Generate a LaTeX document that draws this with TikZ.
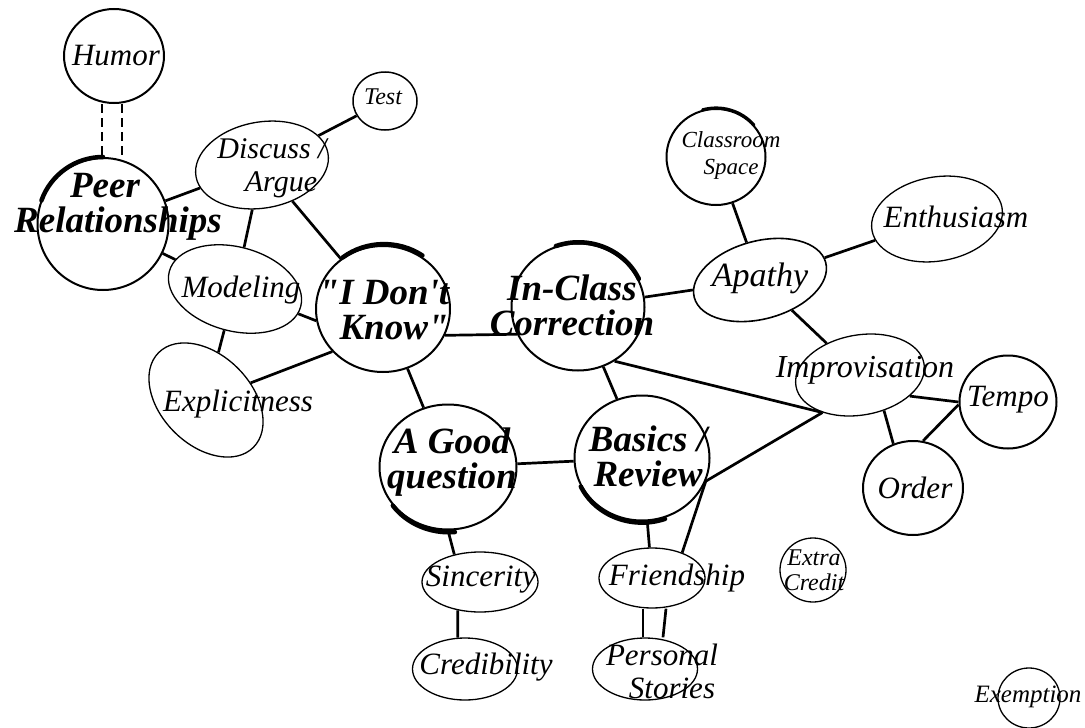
\documentclass[tikz,border=0pt]{standalone}
\usepackage{fontspec}
\setmainfont{Liberation Serif}
\usetikzlibrary{shapes.geometric}

\tikzset{
  bub/.style={draw, ellipse, line width=2pt, inner sep=0pt},
  thinbub/.style={bub, line width=1.3pt},
  lab/.style={align=center, inner sep=0pt, font=\fontsize{31pt}{33pt}\selectfont\itshape},
  smalllab/.style={lab, font=\fontsize{24pt}{25pt}\selectfont\itshape},
  boldlab/.style={lab, font=\fontsize{37pt}{35pt}\selectfont\bfseries\itshape},
  link/.style={line width=2.7pt},
  brush/.style={line width=4.5pt, line cap=round},
}

\begin{document}
\begin{tikzpicture}[x=1pt, y=-1pt]
\useasboundingbox (0,0) rectangle (1085,728);
% bubbles
\node[bub, minimum width=100pt, minimum height=94pt] (humor) at (114,56) {};
\node[bub, minimum width=131pt, minimum height=132pt] (peer) at (103,224) {};
\node[bub, line width=1.5pt, minimum width=64pt, minimum height=58pt] (test) at (385,101) {};
\node[thinbub, rotate=10, minimum width=134pt, minimum height=86pt] (discuss) at (262,165) {};
\node[thinbub, rotate=-15, minimum width=136pt, minimum height=84pt] (model) at (235,289) {};
\node[bub, minimum width=134pt, minimum height=126pt] (idk) at (383,309) {};
\node[thinbub, rotate=-45, minimum width=134pt, minimum height=90pt] (explicit) at (206,400) {};
\node[bub, minimum width=133pt, minimum height=127pt] (incls) at (578,307) {};
\node[bub, minimum width=99pt, minimum height=96pt] (space) at (716,157) {};
\node[thinbub, rotate=10, minimum width=132pt, minimum height=84pt] (enth) at (937,219) {};
\node[bub, line width=1.6pt, rotate=15, minimum width=136pt, minimum height=78pt] (apathy) at (760,280) {};
\node[thinbub, rotate=10, minimum width=130pt, minimum height=80pt] (improv) at (860,375) {};
\node[bub, minimum width=97pt, minimum height=93pt] (tempo) at (1008,402) {};
\node[bub, minimum width=100pt, minimum height=94pt] (order) at (913,488) {};
\node[bub, minimum width=137pt, minimum height=125pt] (goodq) at (448,467) {};
\node[bub, minimum width=135pt, minimum height=125pt] (basics) at (642,458) {};
\node[thinbub, minimum width=116pt, minimum height=60pt] (sincere) at (480,582) {};
\node[thinbub, minimum width=105pt, minimum height=62pt] (cred) at (465,669) {};
\node[thinbub, minimum width=106pt, minimum height=60pt] (friend) at (652,578) {};
\node[thinbub, minimum width=105pt, minimum height=62pt] (stories) at (645,669) {};
\node[thinbub, minimum width=66pt, minimum height=64pt] (extra) at (813,570) {};
\node[thinbub, minimum width=62pt, minimum height=60pt] (exempt) at (1029,698) {};
% brush strokes
\draw[brush] (peer.90) arc[start angle=90, end angle=160, x radius=65.5pt, y radius=66pt];
\draw[brush] (idk.128) arc[start angle=128, end angle=55, x radius=67pt, y radius=63pt];
\draw[brush] (incls.110) arc[start angle=110, end angle=25, x radius=66.5pt, y radius=63.5pt];
\draw[brush] (goodq.215) arc[start angle=215, end angle=275, x radius=68.5pt, y radius=62.5pt];
\draw[brush] (basics.205) arc[start angle=205, end angle=290, x radius=67.5pt, y radius=62.5pt];
\draw[brush, line width=3pt] (space.106) arc[start angle=106, end angle=40, x radius=49.5pt, y radius=48pt];
% labels
\node[lab] (humor-t) at (116,56) {Humor};
\node[boldlab] (peer-t) at (118,207) {Peer\hspace*{26pt}\\Relationships};
\node[smalllab] (test-t) at (383,97) {Test};
\node[lab, font=\fontsize{30pt}{33pt}\selectfont\itshape] (discuss-t) at (272,168) {Discuss /\\\hspace*{18pt}Argue};
\node[lab] (model-t) at (241,290) {Modeling};
\node[boldlab] (idk-t) at (384,310) {\textquotedbl I Don\textquotesingle t\\\hspace*{20pt}Know\textquotedbl};
\node[lab] (explicit-t) at (238,404) {Explicitness};
\node[boldlab] (incls-t) at (572,305) {In-Class\\Correction};
\node[smalllab, font=\fontsize{23pt}{27pt}\selectfont\itshape] (space-t) at (731,155) {Classroom\\Space};
\node[lab] (enth-t) at (956,217) {Enthusiasm};
\node[lab, font=\fontsize{34pt}{34pt}\selectfont\itshape] (apathy-t) at (760,278) {Apathy};
\node[lab, font=\fontsize{32pt}{33pt}\selectfont\itshape] (improv-t) at (865,370) {Improvisation};
\node[lab] (tempo-t) at (1008,400) {Tempo};
\node[lab] (order-t) at (915,488) {Order};
\node[boldlab] (goodq-t) at (452,462) {A Good\\question};
\node[boldlab] (basics-t) at (648,456) {Basics /\\Review};
\node[lab] (sincere-t) at (481,580) {Sincerity};
\node[lab] (cred-t) at (486,667) {Credibility};
\node[lab] (friend-t) at (677,578) {Friendship};
\node[lab] (stories-t) at (662,671) {Personal\\\hspace*{20pt}Stories};
\node[smalllab] (extra-t) at (814,570) {Extra\\Credit};
\node[smalllab, font=\fontsize{25pt}{25pt}\selectfont\itshape] (exempt-t) at (1028,697) {Exemption};
% links
\draw[link, dash pattern=on 9pt off 5pt] ([xshift=-12pt]humor.south) -- ([xshift=-1pt]peer.north);
\draw[link, dash pattern=on 9pt off 5pt] ([xshift=8pt]humor.south) -- ([xshift=19pt]peer.north);
\draw[link] (peer) -- (discuss);
\draw[link] (peer) -- (model);
\draw[link] (test) -- (discuss);
\draw[link] (discuss) -- (model);
\draw[link] (discuss) -- (idk);
\draw[link] (model) -- (idk.190);
\draw[link] (model) -- (explicit);
\draw[link] (idk.220) -- (explicit);
\draw[link] (idk.-23) -- (incls.204);
\draw[link] (idk) -- (goodq);
\draw[link] (incls) -- (apathy);
\draw[link] (space) -- (apathy);
\draw[link] (enth) -- (apathy);
\draw[link] (apathy) -- (improv);
\draw[link] (incls.-56) -- (improv.215);
\draw[link] (incls) -- (basics);
\draw[link] (improv.-33) -- (tempo.180);
\draw[link] (improv.-66) -- (order.114);
\draw[link] (tempo.183) -- (order.78);
\draw[link] (goodq) -- (basics);
\draw[link] (improv.215) -- (basics.-20) -- (friend.40);
\draw[link] (basics) -- (friend);
\draw[link] (goodq.-90) -- (sincere.133);
\draw[link] (sincere.232) -- (cred.103);
\draw[link] ([xshift=-9pt]friend.south) -- ([xshift=-2pt]stories.north);
\draw[link] ([xshift=14pt]friend.south) -- ([xshift=18pt]stories.north);
\end{tikzpicture}
\end{document}
